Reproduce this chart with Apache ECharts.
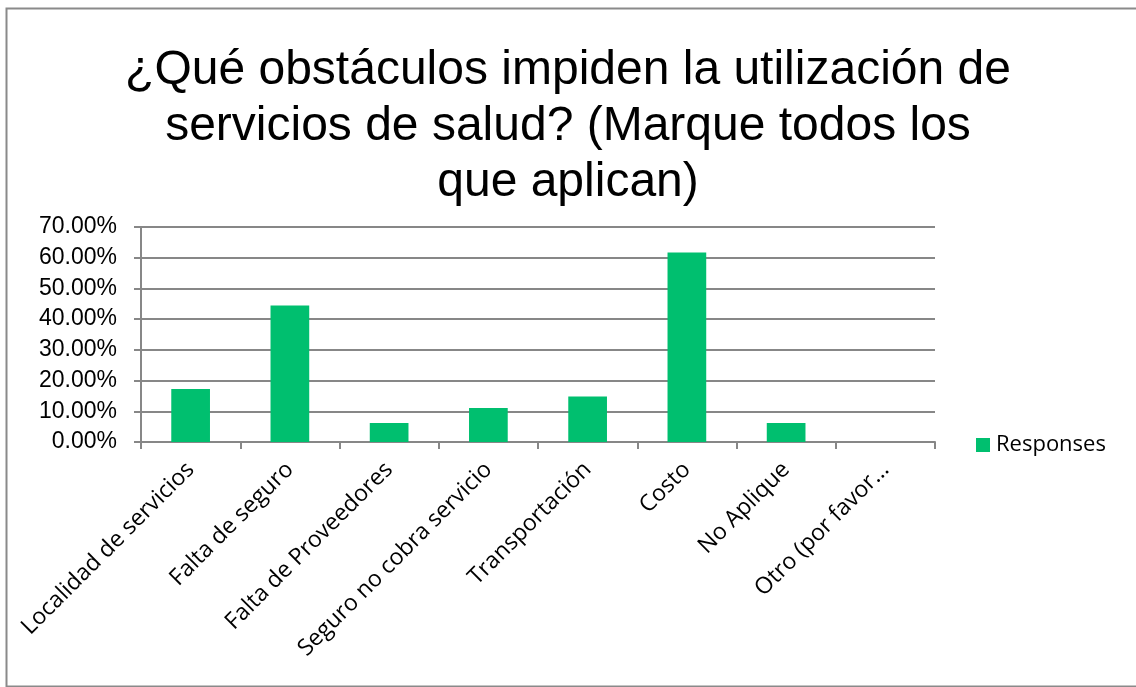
<!DOCTYPE html>
<html>
<head>
<meta charset="utf-8">
<script src="https://cdn.jsdelivr.net/npm/echarts@6/dist/echarts.min.js"></script>
<style>
  html, body { margin: 0; padding: 0; background: #ffffff; }
  #chart { width: 1136px; height: 687px; }
</style>
</head>
<body>
<div id="chart"></div>
<script>
// Survey question and answer options
const titleText = '¿Qué obstáculos impiden la utilización de\nservicios de salud? (Marque todos los\nque aplican)';
const categories = [
  'Localidad de servicios',
  'Falta de seguro',
  'Falta de Proveedores',
  'Seguro no cobra servicio',
  'Transportación',
  'Costo',
  'No Aplique',
  'Otro (por favor...'
];
// Share of respondents choosing each option (%)
const responses = [17.28, 44.44, 6.17, 11.11, 14.81, 61.73, 6.17, 0];
const seriesName = 'Responses';
const yMin = 0, yMax = 70, yStep = 10;

const gray = '#878787';
const chart = echarts.init(document.getElementById('chart'), null, { renderer: 'canvas' });

chart.setOption({
  backgroundColor: '#ffffff',
  animation: false,
  title: {
    text: titleText,
    left: 'center',
    top: 38,
    textStyle: {
      fontFamily: 'Liberation Sans, Arial, sans-serif',
      fontSize: 48,
      fontWeight: 'normal',
      color: '#000000',
      lineHeight: 56,
      align: 'center'
    }
  },
  legend: {
    data: [seriesName],
    orient: 'vertical',
    left: 971,
    top: 429,
    itemWidth: 14,
    itemHeight: 14,
    icon: 'rect',
    itemGap: 0,
    textStyle: {
      fontFamily: 'Open Sans, sans-serif',
      fontSize: 22,
      color: '#000000',
      padding: [0, 0, 0, 1]
    }
  },
  grid: {
    left: 141,
    right: 201,
    top: 227,
    bottom: 245,
    containLabel: false
  },
  xAxis: {
    type: 'category',
    data: categories,
    boundaryGap: true,
    axisLine: { show: true, lineStyle: { color: gray, width: 2 } },
    axisTick: { show: true, alignWithLabel: false, length: 7, lineStyle: { color: gray, width: 2 } },
    axisLabel: {
      interval: 0,
      rotate: 45,
      margin: 24,
      fontFamily: 'Open Sans, sans-serif',
      fontSize: 23,
      color: '#000000'
    },
    splitLine: { show: false }
  },
  yAxis: {
    type: 'value',
    min: yMin,
    max: yMax,
    interval: yStep,
    axisLine: { show: true, lineStyle: { color: gray, width: 2 } },
    axisTick: { show: true, inside: false, length: 7, lineStyle: { color: gray, width: 2 } },
    axisLabel: {
      margin: 24,
      fontFamily: 'Liberation Sans, Arial, sans-serif',
      fontSize: 23,
      color: '#000000',
      formatter: v => v.toFixed(2) + '%'
    },
    splitLine: { show: true, lineStyle: { color: gray, width: 2 } }
  },
  series: [{
    name: seriesName,
    type: 'bar',
    data: responses,
    barWidth: '39%',
    itemStyle: { color: '#00BF6F' }
  }],
  graphic: [{
    type: 'rect',
    left: 4,
    top: 6,
    shape: { width: 1150, height: 678 },
    style: { fill: 'none', stroke: '#8a8a8a', lineWidth: 2 },
    silent: true
  }]
});
</script>
</body>
</html>
